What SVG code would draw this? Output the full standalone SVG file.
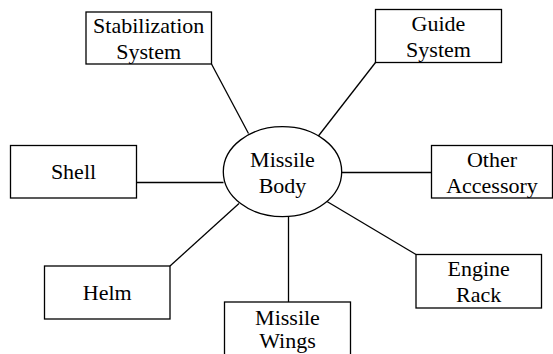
<svg xmlns="http://www.w3.org/2000/svg" width="553" height="354" viewBox="0 0 553 354">
<rect width="553" height="354" fill="#fff"/>
<g id="connectors" stroke="#000" stroke-width="1.3" fill="none">
<line x1="211.5" y1="64" x2="248.5" y2="133.5"/>
<line x1="375.5" y1="62.5" x2="318" y2="136.5"/>
<line x1="136.5" y1="182.5" x2="223.5" y2="182.5"/>
<line x1="341.5" y1="172.5" x2="431.5" y2="172.5"/>
<line x1="170" y1="266" x2="239" y2="203.5"/>
<line x1="288.5" y1="216.5" x2="288.5" y2="302"/>
<line x1="327" y1="201.5" x2="416" y2="254.5"/>
</g>
<g font-family="Liberation Serif" font-size="22" text-anchor="middle">
<g id="missile-body">
<ellipse cx="282.5" cy="171.7" rx="59.2" ry="45" fill="#fff" stroke="#000" stroke-width="1.3"/>
<text x="282.5" y="166.5">Missile</text>
<text x="282.5" y="193">Body</text>
</g>
<g id="stabilization-system">
<rect x="86" y="12" width="125.5" height="52" fill="#fff" stroke="#000" stroke-width="1.3"/>
<text x="148.7" y="33">Stabilization</text>
<text x="148.7" y="59">System</text>
</g>
<g id="guide-system">
<rect x="375.5" y="9.5" width="126" height="53" fill="#fff" stroke="#000" stroke-width="1.3"/>
<text x="438.5" y="31">Guide</text>
<text x="438.5" y="57">System</text>
</g>
<g id="shell">
<rect x="10.5" y="145.5" width="126" height="52.5" fill="#fff" stroke="#000" stroke-width="1.3"/>
<text x="73.5" y="179">Shell</text>
</g>
<g id="other-accessory">
<rect x="431.5" y="145.5" width="121" height="52.5" fill="#fff" stroke="#000" stroke-width="1.3"/>
<text x="492" y="166.5">Other</text>
<text x="492" y="192.5">Accessory</text>
</g>
<g id="helm">
<rect x="44.5" y="266" width="125.5" height="53" fill="#fff" stroke="#000" stroke-width="1.3"/>
<text x="107.2" y="300">Helm</text>
</g>
<g id="missile-wings">
<rect x="224.5" y="302" width="126" height="53" fill="#fff" stroke="#000" stroke-width="1.3"/>
<text x="287.5" y="325">Missile</text>
<text x="287.5" y="348">Wings</text>
</g>
<g id="engine-rack">
<rect x="416" y="254.5" width="125.5" height="53.5" fill="#fff" stroke="#000" stroke-width="1.3"/>
<text x="478.7" y="275.5">Engine</text>
<text x="478.7" y="302">Rack</text>
</g>
</g>
</svg>
